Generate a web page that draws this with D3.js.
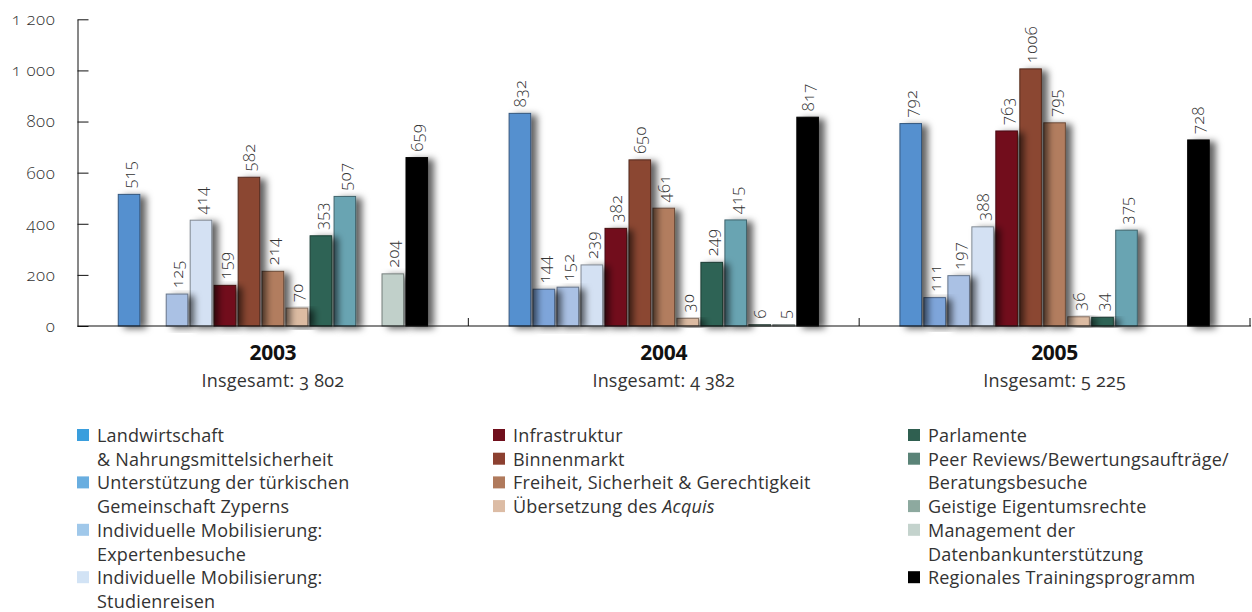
<!DOCTYPE html>
<html lang="de">
<head>
<meta charset="utf-8">
<title>TAIEX – Aktivitäten nach Bereichen 2003–2005</title>
<script src="https://cdn.jsdelivr.net/npm/d3@7"></script>
<style>
  html, body { margin: 0; padding: 0; background: #fff; }
  svg { display: block; font-family: "Open Sans", "Noto Sans", sans-serif; }
  .num { font-variant-numeric: oldstyle-nums; }
</style>
</head>
<body>
<svg id="chart" width="1252" height="612"></svg>
<script>
// Years (groups) and the thirteen activity areas in drawing order
const years = ["2003", "2004", "2005"];
const series = [
  "Landwirtschaft & Nahrungsmittelsicherheit",
  "Unterstützung der türkischen Gemeinschaft Zyperns",
  "Individuelle Mobilisierung: Expertenbesuche",
  "Individuelle Mobilisierung: Studienreisen",
  "Infrastruktur",
  "Binnenmarkt",
  "Freiheit, Sicherheit & Gerechtigkeit",
  "Übersetzung des Acquis",
  "Parlamente",
  "Peer Reviews/Bewertungsaufträge/Beratungsbesuche",
  "Geistige Eigentumsrechte",
  "Management der Datenbankunterstützung",
  "Regionales Trainingsprogramm"
];

// Values per year, one entry per activity area (0 = no bar)
const values2003 = [515, 0, 125, 414, 159, 582, 214, 70, 353, 507, 0, 204, 659];
const values2004 = [832, 144, 152, 239, 382, 650, 461, 30, 249, 415, 6, 5, 817];
const values2005 = [792, 111, 197, 388, 763, 1006, 795, 36, 34, 375, 0, 0, 728];

// Y axis ticks
const yTicks = [0, 200, 400, 600, 800, 1000, 1200];

// Bar fills and legend swatch fills
const barColors = ["#5590cf", "#7ea5da", "#aac1e4", "#d4e1f3", "#720f1b", "#8b4731", "#b27d5f",
                   "#dcbba2", "#2e6455", "#69a4b2", "#7d9c92", "#c1d0ca", "#000000"];
const swatchColors = ["#3a9edd", "#69aee0", "#a0c8ea", "#d2e3f5", "#700f1c", "#8c4030", "#b07a5c",
                      "#dcbca5", "#2f5f50", "#5a8377", "#8da99f", "#c4d3cd", "#000000"];

// Legend layout: columns of entries, each entry = [series index, lines]
const legendColumns = [
  [[0, ["Landwirtschaft", "& Nahrungsmittelsicherheit"]],
   [1, ["Unterstützung der türkischen", "Gemeinschaft Zyperns"]],
   [2, ["Individuelle Mobilisierung:", "Expertenbesuche"]],
   [3, ["Individuelle Mobilisierung:", "Studienreisen"]]],
  [[4, ["Infrastruktur"]],
   [5, ["Binnenmarkt"]],
   [6, ["Freiheit, Sicherheit & Gerechtigkeit"]],
   [7, ["Übersetzung des |Acquis"]]],
  [[8, ["Parlamente"]],
   [9, ["Peer Reviews/Bewertungsaufträge/", "Beratungsbesuche"]],
   [10, ["Geistige Eigentumsrechte"]],
   [11, ["Management der", "Datenbankunterstützung"]],
   [12, ["Regionales Trainingsprogramm"]]]
];

const valuesByYear = [values2003, values2004, values2005];
const data = years.map((yr, gi) => ({
  year: yr,
  values: valuesByYear[gi].map((v, si) => ({ si, v }))
}));

const fmt = d3.formatLocale({ decimal: ",", thousands: " ", grouping: [3], currency: ["", ""] }).format(",d");

const svg = d3.select("#chart");
const plotLeft = 77.5, plotRight = 1250, plotTop = 19.3, plotBottom = 326;
const textColor = "#333";

const x0 = d3.scaleBand().domain(years).range([plotLeft, plotRight]);
const x1 = d3.scaleBand().domain(d3.range(series.length))
  .range([0, x0.bandwidth()]).paddingInner(0.1).paddingOuter(1.7);
const y = d3.scaleLinear().domain([0, 1200]).range([plotBottom, plotTop]);

// Soft drop shadow that falls to the right of each bar
const defs = svg.append("defs");
const f = defs.append("filter").attr("id", "shadow")
  .attr("x", "-20%").attr("y", "-10%").attr("width", "200%").attr("height", "130%");
f.append("feDropShadow").attr("dx", 6).attr("dy", 2).attr("stdDeviation", 3.5)
  .attr("flood-color", "#000").attr("flood-opacity", 0.62);

// Y axis
const yAxis = d3.axisLeft(y).tickValues(yTicks).tickFormat(fmt)
  .tickSizeInner(-11).tickSizeOuter(0).tickPadding(22);
const ya = svg.append("g").attr("transform", `translate(${plotLeft},0)`).call(yAxis);
ya.select(".domain").attr("stroke", "#111").attr("stroke-width", 1);
ya.selectAll(".tick line").attr("stroke", "#111");
ya.selectAll(".tick text").attr("fill", textColor).attr("font-size", 17)
  .attr("font-family", "'Open Sans', sans-serif").attr("letter-spacing", 0.6)
  .attr("font-weight", 300).attr("class", "num");

// Bars: drawn right to left so each shadow falls over its right-hand neighbour
const groups = svg.append("g").selectAll("g.grp").data(data).join("g")
  .attr("class", "grp").attr("transform", d => `translate(${x0(d.year)},0)`);

groups.selectAll("rect").data(d => d.values.filter(e => e.v > 0).slice().reverse()).join("rect")
  .attr("x", d => x1(d.si)).attr("width", x1.bandwidth())
  .attr("y", d => y(d.v)).attr("height", d => y(0) - y(d.v))
  .attr("fill", d => barColors[d.si])
  .attr("stroke", d => d3.color(barColors[d.si]).darker(1.4))
  .attr("stroke-width", 1)
  .attr("filter", "url(#shadow)");

// Value labels above the bars, rotated
groups.selectAll("text.val").data(d => d.values.filter(e => e.v > 0)).join("text")
  .attr("class", "val num")
  .attr("transform", d => `translate(${x1(d.si) + x1.bandwidth() / 2},${y(d.v) - 6}) rotate(-90)`)
  .attr("dy", "0.36em").attr("font-size", 16.5).attr("font-weight", 300)
  .attr("letter-spacing", 0.4).attr("fill", textColor)
  .text(d => d.v);

// Baseline and group separators
svg.append("line").attr("x1", plotLeft).attr("x2", plotRight + 1).attr("y1", plotBottom).attr("y2", plotBottom)
  .attr("stroke", "#111").attr("stroke-width", 1.2);
svg.append("g").selectAll("line").data(years).join("line")
  .attr("x1", d => x0(d) + x0.bandwidth()).attr("x2", d => x0(d) + x0.bandwidth())
  .attr("y1", plotBottom - 8).attr("y2", plotBottom).attr("stroke", "#111");

// Year titles and totals
const cap = svg.append("g").selectAll("g").data(data).join("g")
  .attr("transform", d => `translate(${x0(d.year) + x0.bandwidth() / 2},0)`);
cap.append("text").attr("y", 360).attr("text-anchor", "middle")
  .attr("font-size", 21).attr("font-weight", 700).attr("fill", "#111")
  .attr("letter-spacing", -0.3).text(d => d.year);
cap.append("text").attr("y", 387).attr("text-anchor", "middle")
  .attr("font-size", 18).attr("letter-spacing", 0.2).attr("fill", textColor).attr("class", "num")
  .text(d => "Insgesamt: " + fmt(d3.sum(d.values, e => e.v)));

// Legend
const colX = [77, 493, 908];
const lineH = 23.7, firstBase = 442;
legendColumns.forEach((col, ci) => {
  let row = 0;
  col.forEach(([si, lines]) => {
    const base = firstBase + row * lineH;
    svg.append("rect").attr("x", colX[ci]).attr("y", base - 13)
      .attr("width", 12).attr("height", 12).attr("fill", swatchColors[si]);
    lines.forEach((ln, li) => {
      const t = svg.append("text").attr("x", colX[ci] + 20).attr("y", base + li * lineH)
        .attr("font-size", 18).attr("letter-spacing", 0.2).attr("fill", textColor);
      const parts = ln.split("|");
      t.append("tspan").text(parts[0]);
      if (parts[1]) t.append("tspan").attr("font-style", "italic").text(parts[1]);
    });
    row += lines.length;
  });
});
</script>
</body>
</html>
